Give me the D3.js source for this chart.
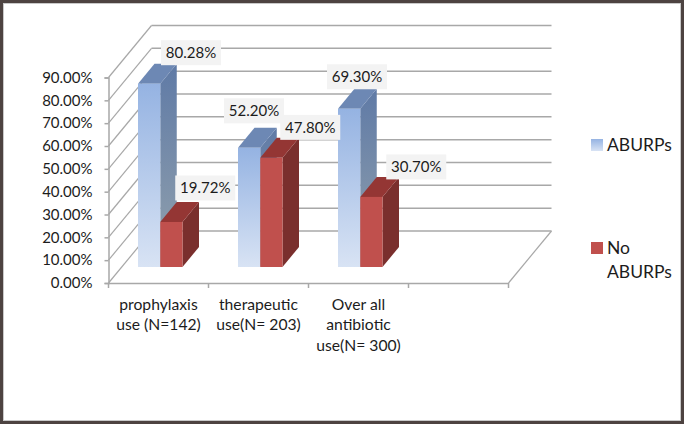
<!DOCTYPE html>
<html><head><meta charset="utf-8">
<script src="https://cdnjs.cloudflare.com/ajax/libs/d3/7.8.5/d3.min.js"></script>
<style>html,body{margin:0;padding:0;background:#fff}svg{display:block}text{font-family:Lato,"Open Sans",sans-serif;fill:#1c1c1c}</style>
</head><body><svg id="c" width="684" height="424"></svg>
<script>
const categories=["prophylaxis use (N=142)","therapeutic use(N= 203)","Over all antibiotic use(N= 300)","blank"];
const categoryLines=[["prophylaxis","use (N=142)"],["therapeutic","use(N= 203)"],["Over all","antibiotic","use(N= 300)"],[]];
const aburps=[80.28,52.20,69.30];
const noAburps=[19.72,47.80,30.70];
const yTicks=[0,10,20,30,40,50,60,70,80,90];
const seriesNames=["ABURPs","No ABURPs"];

const svg=d3.select("#c");
const W=684,H=424;
const defs=svg.append("defs");
function grad(id,a,b){const g=defs.append("linearGradient").attr("id",id).attr("x1",0).attr("y1",0).attr("x2",0).attr("y2",1);
 g.append("stop").attr("offset",0).attr("stop-color",a);g.append("stop").attr("offset",1).attr("stop-color",b);}
grad("bf","#95b3e2","#d8e3f4");grad("bs","#5f7aa6","#93a2ad");grad("lg","#95b3e2","#d8e3f4");

// frame
svg.append("rect").attr("x",1.5).attr("y",1.5).attr("width",W-3).attr("height",H-3).attr("fill","#fff").attr("stroke","#4d4341").attr("stroke-width",3);
svg.append("rect").attr("x",3.5).attr("y",3.5).attr("width",W-7).attr("height",H-7).attr("fill","none").attr("stroke","#c9c9c9").attr("stroke-width",1);

const y=d3.scaleLinear().domain([0,90]).range([283,77.5]);
const x=d3.scaleBand().domain(categories).range([108.5,508.5]);
const wall={dx:43,dy:-52}, floorOff={dx:13,dy:-16}, depth={dx:16.5,dy:-20};
const grid="#a8a8a8";

const g=svg.append("g");
// back wall gridlines + side wall diagonals
yTicks.forEach(t=>{
 const yy=y(t);
 g.append("line").attr("x1",x.range()[0]+wall.dx).attr("x2",x.range()[1]+wall.dx).attr("y1",yy+wall.dy).attr("y2",yy+wall.dy).attr("stroke",grid).attr("stroke-width",1.5);
 g.append("line").attr("x1",x.range()[0]).attr("x2",x.range()[0]+wall.dx).attr("y1",yy).attr("y2",yy+wall.dy).attr("stroke",grid).attr("stroke-width",1.2);
});
g.append("line").attr("x1",x.range()[1]).attr("x2",x.range()[1]+wall.dx).attr("y1",y(0)).attr("y2",y(0)+wall.dy).attr("stroke",grid).attr("stroke-width",1.2);

// axes
const ax=svg.append("g").attr("transform",`translate(${x.range()[0]},0)`)
 .call(d3.axisLeft(y).tickValues(yTicks).tickSize(4).tickPadding(12).tickFormat(d=>d.toFixed(2)+"%"));
ax.selectAll("path,line").attr("stroke","#a8a8a8").attr("stroke-width",1.5);
ax.selectAll("text").attr("font-size",15).style("font-family",'Lato,sans-serif').attr("fill","#1c1c1c");
const bx=svg.append("g").attr("transform",`translate(0,${y(0)})`)
 .call(d3.axisBottom(x).tickSize(0).tickFormat(""));
bx.select("path").attr("stroke","#a8a8a8").attr("stroke-width",1.5);
categories.concat([null]).forEach((c,i)=>{
 const xx=c?x(c):x.range()[1];
 svg.append("line").attr("x1",xx).attr("x2",xx).attr("y1",y(0)).attr("y2",y(0)+5).attr("stroke","#a8a8a8").attr("stroke-width",1.5);
});
categories.forEach((c,i)=>{
 const t=svg.append("text").attr("text-anchor","middle").attr("font-size",15.7);
 categoryLines[i].forEach((l,k)=>t.append("tspan").attr("x",x(c)+x.bandwidth()/2).attr("y",y(0)+27+k*20.3).text(l));
});

// bars
const barW=22.25, inset=29.5;
function bar(i,s,val,front,side,top){
 const x0=x(categories[i])+inset+s*barW, x1=x0+barW;
 const base=y(0)+floorOff.dy, h=y(0)-y(val), yt=base-h;
 const d=depth, p=a=>a.map(q=>q.join(",")).join(" ");
 const b=svg.append("g");
 b.append("polygon").attr("points",p([[x1,yt],[x1+d.dx,yt+d.dy],[x1+d.dx,base+d.dy],[x1,base]])).attr("fill",side);
 b.append("polygon").attr("points",p([[x0,yt],[x0+d.dx,yt+d.dy],[x1+d.dx,yt+d.dy],[x1,yt]])).attr("fill",top);
 b.append("rect").attr("x",x0).attr("y",yt).attr("width",barW).attr("height",h).attr("fill",front);
 return {x0,yt};
}
const pos=[];
categories.slice(0,3).forEach((c,i)=>{
 pos.push([bar(i,0,aburps[i],"url(#bf)","url(#bs)","#6d88b4"),bar(i,1,noAburps[i],"#c0504d","#7a2f2d","#943634")]);
});

// data labels (offsets are from each bar's front top-left corner)
const labelOffsets=[[[53,-31],[45,-34]],[[16,-37],[50,-30.5]],[[19,-32],[56,-30]]];
categories.slice(0,3).forEach((c,i)=>{
 [aburps[i],noAburps[i]].forEach((v,s)=>{
  const o=labelOffsets[i][s], cx=pos[i][s].x0+o[0], cy=pos[i][s].yt+o[1];
  svg.append("rect").attr("x",cx-30).attr("y",cy-12.5).attr("width",60).attr("height",25).attr("fill","#f3f3f3");
  svg.append("text").attr("x",cx).attr("y",cy+5.5).attr("text-anchor","middle").attr("font-size",15).text(v.toFixed(2)+"%");
 });
});

// legend
svg.append("rect").attr("x",591).attr("y",139).attr("width",12).attr("height",12).attr("fill","url(#lg)");
svg.append("text").attr("x",607).attr("y",151).attr("font-size",17.5).text(seriesNames[0]);
svg.append("rect").attr("x",591).attr("y",242).attr("width",12).attr("height",12).attr("fill","#c0504d");
const parts=seriesNames[1].split(" ");
svg.append("text").attr("x",607).attr("y",254).attr("font-size",17.5).text(parts[0]);
svg.append("text").attr("x",607).attr("y",278).attr("font-size",17.5).text(parts[1]);
</script></body></html>
